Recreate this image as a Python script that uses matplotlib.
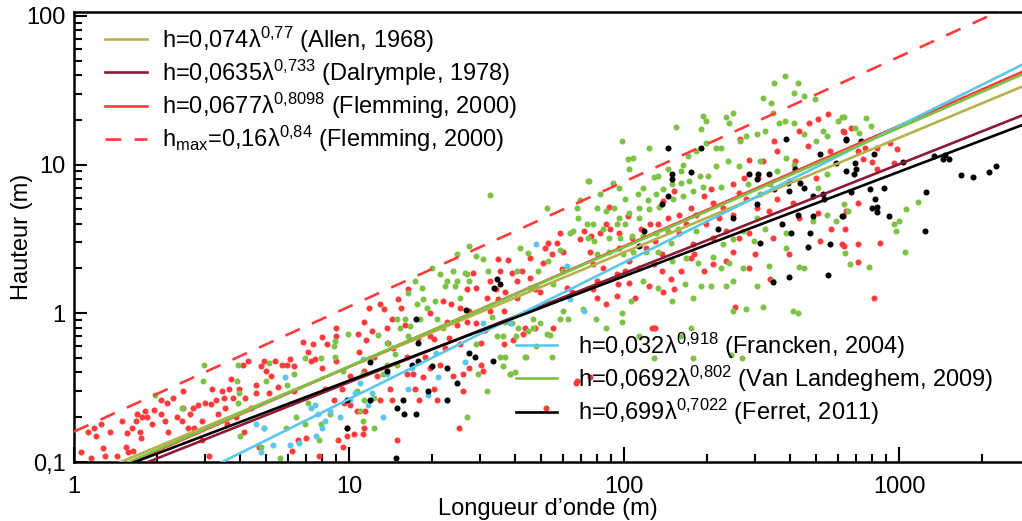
import numpy as np
import matplotlib
matplotlib.use("Agg")
import matplotlib.pyplot as plt
from matplotlib import ticker
from matplotlib.lines import Line2D

plt.rcParams['font.family'] = ['Liberation Sans', 'DejaVu Sans']
plt.rcParams['mathtext.fontset'] = 'custom'
plt.rcParams['mathtext.rm'] = 'Liberation Sans'
plt.rcParams['mathtext.it'] = 'Liberation Sans:italic'
plt.rcParams['mathtext.bf'] = 'Liberation Sans:bold'

# scatter data: wavelength (m), height (m)
red_lam = [1.06, 1.15, 1.12, 1.18, 1.2, 1.25, 1.27, 1.3, 1.35, 1.43, 1.5, 1.55, 1.56, 1.57, 1.62, 1.64, 1.68, 1.7,
           1.74, 1.75, 1.77, 1.81, 1.84, 1.92, 1.95, 2.07, 2.07, 2.14, 2.18, 2.2, 2.29, 2.37, 2.47, 2.49, 2.5, 2.6,
           2.64, 2.7, 2.73, 2.83, 2.92, 2.92, 3.0, 3.1, 3.15, 3.18, 3.28, 3.33, 3.45, 3.5, 3.53, 3.6, 3.66, 3.72,
           3.8, 3.88, 3.98, 4.1, 4.15, 4.2, 4.3, 4.4, 4.6, 4.6, 4.7, 4.8, 4.9, 5.0, 5.1, 5.2, 5.4, 5.5, 5.7, 5.95,
           6.1, 6.3, 6.3, 6.5, 6.8, 7.1, 7.3, 7.4, 8.0, 8.0, 8.2, 8.3, 7.8, 6.2, 7.0, 7.5,
           9.0, 9.0, 9.0, 8.8, 9.1, 9.8, 9.8, 9.6, 9.4, 10.1, 10.8, 10.9, 11.3, 11.5, 11.3, 10.4, 11.2, 10.7, 11.4,
           11.8, 12.1, 12.3, 12.6, 13.0, 13.4, 13.7, 13.9, 14.3, 14.5, 14.3, 15.0, 15.1, 15.5, 16.4, 16.0, 16.3,
           17.1, 17.4, 17.8, 18.0, 18.9, 19.7, 19.7, 19.7, 20.9, 21.4, 22.0, 22.3, 22.7, 23.1, 23.9, 24.7, 25.2,
           26.0, 26.8, 27.4, 29.0, 30.3, 30.7, 31.2, 31.7, 32.5, 34.2, 34.9, 35.5, 36.5, 38.0, 39.2, 40.9, 42.5,
           45.5, 47.4, 49.4, 51.5, 54.6, 57.0, 58.5, 59.4, 61.8, 64.5, 67.3, 69.0, 71.6,
           28.2, 40.9, 37.0, 45.5, 52.8, 60.0, 50.6, 32.5, 34.9, 25.4, 23.5, 26.8, 29.0, 20.3, 18.6, 16.3, 14.1,
           13.0, 20.3, 26.0, 30.3, 27.4, 25.4, 36.5, 10.1, 11.3, 9.5,
           75, 77, 80, 77, 86, 89, 88, 96, 103, 107, 101, 94, 95, 94, 115, 120, 124, 130, 123, 138, 139, 152, 152,
           161, 158, 175, 195, 210, 195, 207, 229, 249, 262, 265, 285, 273, 306, 321, 360, 350, 431, 466, 508,
           553, 470, 420, 497, 560, 627, 398, 360, 337, 304, 285, 410, 431, 508, 516, 566, 622, 398, 299, 249,
           234, 210, 178, 254, 339, 128, 139, 110, 80, 86, 138, 179, 199, 158,
           76, 82, 96, 104, 113, 129, 84, 104, 148, 133, 144, 168, 183, 222, 261, 348, 210, 249, 278, 175, 285, 234,
           630, 670, 710, 750, 830, 930, 980, 740, 800, 830, 955, 710, 640, 635, 630, 710, 850, 710, 810,
           39.5, 43, 43.6, 47.4, 55, 126, 67, 75, 52, 130]
red_h = [0.116, 0.107, 0.16, 0.17, 0.15, 0.18, 0.124, 0.11, 0.16, 0.11, 0.19, 0.127, 0.156, 0.116, 0.17, 0.118,
         0.19, 0.21, 0.16, 0.146, 0.2, 0.22, 0.2, 0.18, 0.225, 0.26, 0.21, 0.19, 0.25, 0.16, 0.27, 0.2, 0.19, 0.3,
         0.23, 0.17, 0.21, 0.23, 0.17, 0.24, 0.14, 0.19, 0.25, 0.11, 0.245, 0.31, 0.26, 0.21, 0.3, 0.27, 0.23,
         0.18, 0.31, 0.36, 0.27, 0.2, 0.31, 0.45, 0.16, 0.27, 0.48, 0.23, 0.33, 0.29, 0.127, 0.44, 0.48, 0.41,
         0.29, 0.38, 0.48, 0.32, 0.45, 0.45, 0.49, 0.44, 0.3, 0.14, 0.64, 0.55, 0.48, 0.62, 0.69, 0.43, 0.31,
         0.62, 0.11, 0.118, 0.145, 0.49,
         0.8, 0.7, 0.48, 0.26, 0.14, 0.15, 0.17, 0.25, 0.31, 0.38, 0.72, 0.55, 0.87, 0.66, 0.41, 0.155, 0.155,
         0.22, 0.22, 1.08, 0.76, 0.51, 0.38, 1.15, 1.06, 0.79, 0.63, 0.92, 0.58, 0.26, 0.14, 1.24, 1.08, 1.45,
         0.83, 0.51, 0.39, 0.31, 0.68, 0.26, 0.51, 0.43, 0.7, 1.0, 0.26, 0.45, 1.2, 0.58, 0.88, 0.68, 0.38, 0.84,
         0.17, 0.39, 1.45, 1.03, 1.47, 0.63, 0.41, 0.77, 1.26, 1.03, 1.45, 2.3, 1.92, 1.03, 2.27, 1.86, 1.26,
         1.92, 2.35, 1.45, 1.4, 2.73, 2.5, 2.95, 3.45, 1.98, 1.47, 1.4, 0.35, 3.15, 3.55,
         1.86, 1.64, 1.4, 1.72, 2.95, 2.6, 2.17, 1.64, 1.24, 1.08, 1.15, 0.88, 0.86, 0.67, 0.37, 0.39, 0.31,
         0.26, 0.31, 0.3, 0.45, 0.43, 0.62, 0.62, 0.24, 0.17, 0.127,
         2.6, 2.14, 1.64, 1.45, 3.97, 3.7, 5.2, 3.45, 4.5, 3.2, 1.92, 1.83, 1.57, 1.3, 3.7, 2.73, 4.0, 3.05, 1.52,
         1.92, 5.7, 6.6, 1.45, 1.92, 4.6, 5.1, 1.92, 2.14, 6.1, 6.8, 5.1, 4.6, 6.4, 14.8, 10.8, 8.1, 8.1, 10.5,
         12.3, 14.3, 16.7, 13.3, 20.2, 21.8, 19.0, 10.5, 8.1, 12.3, 16.7, 7.7, 5.9, 4.9, 5.1, 3.45, 5.5, 4.35,
         4.7, 3.05, 3.7, 2.9, 2.5, 2.5, 2.6, 3.55, 3.2, 2.9, 1.11, 1.69, 0.79, 1.4, 1.26, 1.26, 1.15, 2.5, 2.5,
         3.97, 3.45,
         3.3, 3.45, 2.73, 2.24, 2.0, 2.14, 2.0, 1.59, 1.69, 3.97, 4.35, 4.0, 4.6, 4.35, 3.2, 3.2, 5.5, 7.4, 5.9,
         2.35, 2.0, 2.24,
         16.5, 17.6, 12.3, 12.9, 12.9, 13.9, 12.7, 10.9, 10.4, 9.3, 10.2, 5.5, 4.9, 3.7, 2.82, 2.9, 2.95, 2.2, 1.26,
         0.66, 0.72, 0.8, 0.8, 0.8, 0.79, 0.34, 0.37, 0.23, 0.79]

green_lam = [1.97, 2.47, 2.96, 2.94, 3.95, 3.9, 3.98, 3.95, 4.0, 4.98, 5.1, 5.95, 5.9, 6.3, 6.9, 7.9, 4.9, 4.8,
             5.6, 6.4, 6.9, 7.1, 7.9, 7.8, 8.5, 8.8,
             8.9, 8.9, 9.5, 9.9, 10.7, 11.0, 11.2, 12.3, 11.9, 12.8, 13.3, 13.8, 14.7, 15.3, 16.0, 16.4, 16.7,
             17.4, 17.7, 18.1, 18.6, 19.2, 20.0, 20.6, 20.9, 21.4, 22.0, 22.7, 23.9, 24.3, 25.4, 26.4, 26.8, 27.4,
             27.4, 29.0, 29.0, 29.4, 30.7, 31.7, 32.1, 32.5, 33.0, 34.5, 35.5, 36.3, 37.0, 38.5, 39.2, 41.3, 42.0,
             43.6, 44.7, 46.6, 48.6, 49.4, 52.4, 52.4, 52.8, 55.0, 58.5, 60.0, 62.6, 63.5, 67.3, 68.1, 69.0, 70.9,
             73.3, 74.0,
             24.7, 22.3, 26.8, 24.7, 40.9, 45.5, 58.5, 65, 60, 52.4, 48, 16.4, 18.4, 15, 13.7, 15, 11.2, 11.3, 12.3,
             74.8, 98.5, 104, 103, 108, 123, 155, 194, 199, 190, 234, 240, 250, 320, 342, 350, 384, 428, 414, 450,
             493, 348, 365, 384, 414, 600, 622, 529, 497, 545, 450, 325, 304, 278, 265, 225, 216, 199, 183, 171,
             164, 161, 144, 133, 128, 117, 112, 101, 96, 91, 82, 80, 86, 92, 96, 104, 113, 122, 131, 139, 150, 161,
             172, 189, 202, 216, 239, 261, 225, 194, 178, 164, 151, 134, 123, 113, 101, 94, 84, 77, 74, 78, 88, 97,
             107, 117, 131, 144, 157, 183, 148, 133, 120, 108, 99, 88, 80, 150, 168, 186, 210, 225, 240, 271, 249,
             234, 207, 190, 166, 178, 150, 133, 117, 106, 98, 98, 79, 86, 175, 250, 278, 321, 410, 428, 304, 337,
             431, 450, 387, 348, 545, 590, 508, 545, 360, 339, 311, 282, 311, 387, 414, 304, 325, 387, 485, 271, 249,
             229, 296,
             630, 760, 790, 690, 715, 630, 650, 1060, 1170, 960, 1000, 975, 1050, 635, 665, 780,
             113, 128, 178, 244, 268, 161, 36.4, 40.5, 44.7, 46.6, 53.7, 48, 54.6, 44, 37, 38.5, 40]
green_h = [0.28, 0.23, 0.45, 0.35, 0.45, 0.35, 0.29, 0.25, 0.15, 0.35, 0.46, 0.33, 0.17, 0.39, 0.5, 0.5, 0.17,
           0.127, 0.107, 0.2, 0.18, 0.25, 0.18, 0.14, 0.21, 0.6,
           0.65, 0.51, 0.41, 0.72, 0.3, 0.22, 0.19, 0.17, 0.5, 0.71, 0.39, 0.45, 0.53, 0.79, 0.92, 0.7, 0.82, 1.64,
           1.15, 0.92, 1.24, 1.08, 2.0, 1.2, 0.92, 1.83, 0.79, 1.64, 1.92, 1.52, 1.26, 1.86, 0.2, 2.82, 1.64, 2.42,
           0.62, 0.39, 2.3, 0.3, 1.92, 6.2, 0.94, 0.7, 0.51, 0.44, 0.88, 0.39, 0.86, 0.79, 2.73, 0.51, 2.53, 0.92,
           1.92, 0.86, 5.1, 0.72, 2.24, 1.57, 0.91, 1.03, 0.91, 3.45, 5.1, 4.35, 5.8, 1.06, 3.97, 7.7,
           1.64, 1.52, 1.83, 2.5, 1.92, 1.47, 2.65, 3.55, 1.92, 1.17, 1.52, 1.36, 1.47, 0.92, 0.63, 0.45, 0.39,
           0.26, 0.27,
           7.7, 14.3, 9.3, 10.9, 11.0, 12.9, 17.8, 21.1, 19.6, 17.3, 20.8, 19.0, 22.2, 27.9, 25.8, 35.3, 39.3, 35.3,
           30.3, 28.8, 27.4, 22.2, 19.0, 19.6, 19.0, 19.6, 20.8, 16.7, 14.3, 15.5, 16.0, 16.7, 16.0, 15.5, 14.3,
           12.9, 12.9, 13.9, 12.3, 11.4, 10.0, 9.0, 9.4, 8.4, 8.2, 6.9, 6.3, 5.9, 6.9, 7.5, 6.3, 5.1, 4.9, 5.1,
           4.35, 4.7, 5.1, 5.8, 6.3, 6.8, 7.4, 7.5, 7.7, 8.4, 8.4, 9.7, 10.5, 9.7, 7.1, 7.1, 6.6, 6.1, 5.9, 5.2,
           5.0, 4.35, 4.0, 3.97, 3.7, 3.97, 3.2, 3.05, 3.2, 3.2, 3.3, 3.3, 3.45, 3.55, 3.7, 3.55, 2.95, 2.6, 2.6,
           2.6, 2.5, 2.6, 2.5, 2.24, 2.35, 2.17, 2.4, 2.0, 2.17, 2.0, 1.64, 1.52, 1.52, 1.52, 1.57, 1.26, 1.2, 1.47,
           1.64, 1.2, 1.0, 0.88, 0.91, 0.79, 0.79, 1.03, 1.06, 1.1, 1.03, 1.0, 1.52, 2.07, 2.04, 2.0, 2.73, 1.64,
           4.6, 4.15, 6.9, 8.7, 9.0, 7.4, 6.3, 7.4, 10.5, 11.0, 10.0, 4.35, 3.7, 3.45, 4.15, 3.55, 3.15, 2.9, 3.05,
           20.8, 20.5, 18.1, 17.6, 16.2, 5.4, 4.9, 5.0, 5.6, 4.0, 4.15, 3.6, 2.57, 2.53, 2.14, 2.04,
           0.7, 0.5, 0.5, 0.52, 0.5, 0.7, 0.7, 0.7, 0.76, 0.8, 0.71, 0.6, 0.51, 0.51, 0.51, 0.39, 0.4]

cyan_lam = [4.6, 4.9, 5.3, 4.8, 5.85, 6.1, 6.6, 7.3, 7.5, 7.6, 7.7, 8.2, 8.0, 8.5,
            9.3, 10.1, 10.5, 11.0, 11.2, 11.7, 12.1, 13.3, 13.8, 16.4, 16.9, 19.4, 20.7, 21.1, 26.4, 30.7, 38.5,
            48.0, 61.8, 63.5, 71.6]
cyan_h = [0.18, 0.17, 0.13, 0.116, 0.37, 0.13, 0.135, 0.23, 0.24, 0.15, 0.21, 0.19, 0.17, 0.22,
          0.2, 0.26, 0.29, 0.34, 0.49, 0.24, 0.29, 0.2, 0.39, 0.31, 0.43, 0.28, 0.54, 0.37, 0.47, 0.86, 0.86,
          2.9, 2.07, 1.24, 1.03]

black_lam = [9.8, 9.8, 11.9, 11.9, 13.7, 14.8, 15.0, 15.7, 15.8, 16.9, 17.5, 17.5, 17.8, 17.8, 19.4, 20.0, 22.7,
             22.7, 24.7, 26.6, 27.4, 28.6, 33.4, 33.6, 34.5, 35.5,
             145, 190, 150, 150, 175, 144, 138, 118, 113, 249, 219, 285, 306, 304, 337, 350, 304, 312, 375, 387,
             395, 398, 420, 438, 450, 428, 405, 466, 485, 473, 516, 485, 529, 533, 590, 560, 622, 640, 553, 398, 348,
             643, 729, 693, 700, 643, 685, 809, 1030, 1340, 1450, 1470, 1520, 1680, 1860, 2120, 2260, 670, 786,
             885, 820, 800, 830, 830, 625, 920, 1250, 1240]
black_h = [0.26, 0.17, 0.47, 0.26, 0.41, 0.106, 0.23, 0.26, 0.21, 0.45, 0.21, 0.92, 0.63, 0.48, 0.3, 0.44, 0.26,
           0.43, 0.34, 1.05, 0.54, 0.51, 0.48, 1.47, 1.69, 1.57,
           12.9, 12.9, 8.7, 8.0, 8.9, 6.1, 5.4, 3.55, 2.82, 4.35, 3.7, 8.7, 8.6, 8.0, 8.6, 6.8, 5.4, 2.95, 3.97,
           14.8, 7.5, 6.6, 9.3, 7.5, 6.9, 4.6, 3.45, 2.78, 4.5, 3.45, 11.7, 6.1, 6.3, 5.9, 10.2, 2.9, 4.5, 14.8,
           1.8, 1.75, 1.62,
           14.6, 14.3, 10.2, 9.4, 9.1, 8.6, 11.7, 10.4, 11.4, 10.9, 11.6, 10.9, 8.5, 8.3, 8.9, 9.7, 6.5, 6.8,
           6.9, 5.9, 5.1, 5.2, 4.8, 4.5, 4.5, 6.5, 3.55]

# power laws h = a * lambda^b
law_coef = [0.074, 0.0635, 0.0677, 0.16, 0.032, 0.0692, 0.0699]
law_exp = [0.77, 0.733, 0.8098, 0.84, 0.918, 0.802, 0.7022]
law_labels = [
    r'h=0,074λ$^{0{,}77}$ (Allen, 1968)',
    r'h=0,0635λ$^{0{,}733}$ (Dalrymple, 1978)',
    r'h=0,0677λ$^{0{,}8098}$ (Flemming, 2000)',
    r'h$_{\mathrm{max}}$=0,16λ$^{0{,}84}$ (Flemming, 2000)',
    r'h=0,032λ$^{0{,}918}$ (Francken, 2004)',
    r'h=0,0692λ$^{0{,}802}$ (Van Landeghem, 2009)',
    r'h=0,699λ$^{0{,}7022}$ (Ferret, 2011)',
]
law_colors = ['#b8b04a', '#8c1a32', '#ff3b3b', '#ff3b3b', '#5ac8ec', '#7cc244', '#000000']
law_styles = ['-', '-', '-', (0, (6, 5)), '-', '-', '-']

RED = '#ff3b3b'
GREEN = '#7cc244'
CYAN = '#5ac8ec'

fig = plt.figure(figsize=(10.22, 5.21), dpi=100)
ax = fig.add_axes([74 / 1022, 59 / 521, 948 / 1022, 450 / 521])
ax.set_xscale('log')
ax.set_yscale('log')

ms = 19
ax.scatter(red_lam, red_h, s=ms, color=RED, linewidths=0, zorder=2)
ax.scatter(green_lam, green_h, s=ms, color=GREEN, linewidths=0, zorder=2)
ax.scatter(cyan_lam, cyan_h, s=ms, color=CYAN, linewidths=0, zorder=2)
ax.scatter(black_lam, black_h, s=ms, color='black', linewidths=0, zorder=2)

lam = np.logspace(0, np.log10(3000), 300)
handles = []
for a, b, lab, c, ls in zip(law_coef, law_exp, law_labels, law_colors, law_styles):
    ax.plot(lam, a * lam ** b, color=c, ls=ls, lw=1.9, zorder=3)
    handles.append(Line2D([], [], color=c, ls=ls, lw=1.9, label=lab))

ax.set_xlim(1, 2800)
ax.set_ylim(0.1, 106)

ax.xaxis.set_major_locator(ticker.FixedLocator([1, 10, 100, 1000]))
ax.xaxis.set_major_formatter(ticker.FixedFormatter(['1', '10', '100', '1000']))
ax.yaxis.set_major_locator(ticker.FixedLocator([0.1, 1, 10, 100]))
ax.yaxis.set_major_formatter(ticker.FixedFormatter(['0,1', '1', '10', '100']))
ax.xaxis.set_minor_locator(ticker.LogLocator(base=10, subs=np.arange(2, 10), numticks=20))
ax.yaxis.set_minor_locator(ticker.LogLocator(base=10, subs=np.arange(2, 10), numticks=20))
ax.xaxis.set_minor_formatter(ticker.NullFormatter())
ax.yaxis.set_minor_formatter(ticker.NullFormatter())

ax.tick_params(which='both', direction='in', width=1.5, labelsize=17)
ax.tick_params(axis='x', which='major', length=11, pad=10)
ax.tick_params(axis='y', which='major', length=9, pad=6)
ax.tick_params(which='minor', length=5.5)

for side in ['left', 'bottom', 'top']:
    ax.spines[side].set_linewidth(1.8)
ax.spines['right'].set_visible(False)

ax.set_xlabel('Longueur d’onde (m)', fontsize=17, labelpad=0)
ax.set_ylabel('Hauteur (m)', fontsize=17)
ax.yaxis.set_label_coords(-0.043, 0.5)

leg1 = ax.legend(handles=handles[:4], loc='upper left', bbox_to_anchor=(0.033, 0.972), frameon=False,
                 fontsize=17, handlelength=1.75, handletextpad=0.65, labelspacing=0.12,
                 borderpad=0, borderaxespad=0)
ax.add_artist(leg1)
ax.legend(handles=handles[4:], loc='upper left', bbox_to_anchor=(0.466, 0.292), frameon=False,
          fontsize=17, handlelength=1.75, handletextpad=0.9, labelspacing=0.12,
          borderpad=0, borderaxespad=0)

fig.savefig('out.png', dpi=100)
